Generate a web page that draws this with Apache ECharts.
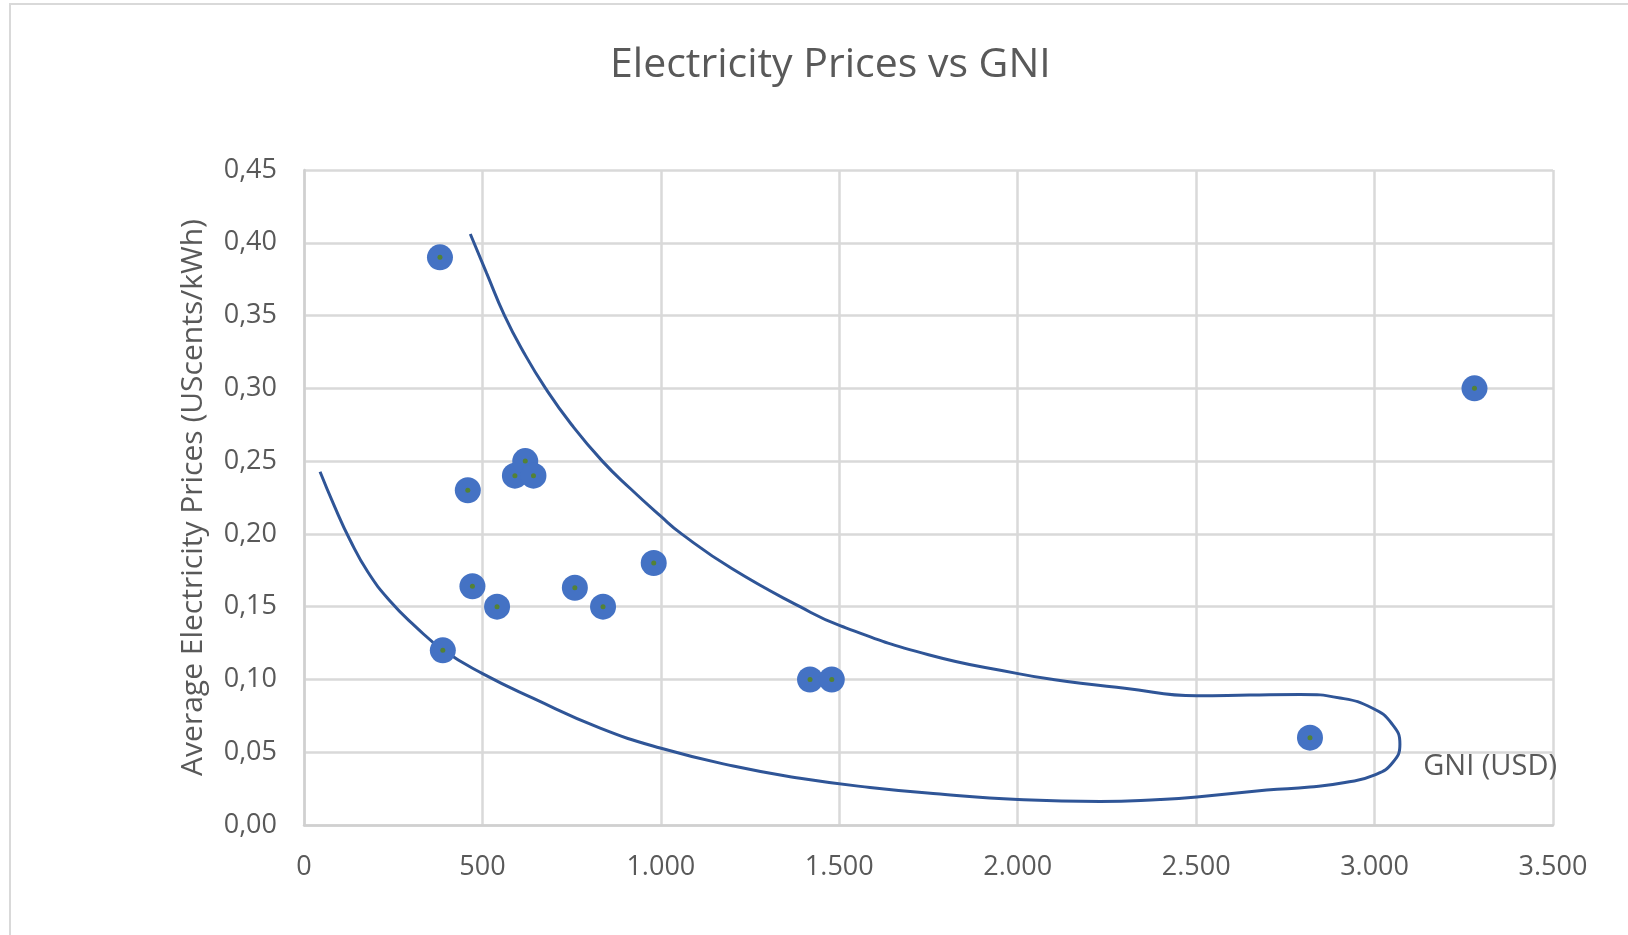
<!DOCTYPE html>
<html>
<head>
<meta charset="utf-8">
<script src="https://cdn.jsdelivr.net/npm/echarts@6/dist/echarts.min.js"></script>
<style>
  html, body { margin: 0; padding: 0; background: #fff; }
  #main { width: 1628px; height: 935px; }
  #frame { position: absolute; left: 9px; top: 3px; width: 1700px; height: 1000px;
           border: 2px solid #d9d9d9; pointer-events: none; }
</style>
</head>
<body>
<div id="main"></div>
<div id="frame"></div>
<script>
// GNI (USD) and average electricity price per country
var gni   = [381, 389, 459, 472, 541, 591, 620, 643, 759, 838, 980, 1418, 1479, 2819, 3280];
var price = [0.39, 0.12, 0.23, 0.164, 0.15, 0.24, 0.25, 0.24, 0.163, 0.15, 0.18, 0.10, 0.10, 0.06, 0.30];

// hand-drawn freeform curve around the points (in axis units)
var curveX = [466, 512, 562, 615, 677, 750, 836, 915, 998, 1058, 1200, 1390, 1502, 1750, 2001, 2099, 2300, 2502, 2650,
              2791, 2903, 2993, 3049, 3071, 3052, 3001, 2917, 2819, 2698, 2502, 2399, 2231, 2001,
              1782, 1586, 1390, 1203, 998, 830, 643, 499, 390, 311, 241, 179, 129, 84, 45];
var curveY = [0.406, 0.379, 0.350, 0.325, 0.300, 0.275, 0.250, 0.231, 0.2125, 0.200, 0.176, 0.150, 0.137, 0.117, 0.104, 0.100, 0.094, 0.0888, 0.0893,
              0.0897, 0.0873, 0.0804, 0.0694, 0.0556, 0.0433, 0.0344, 0.0292, 0.0261, 0.0240, 0.0192, 0.0175, 0.0161, 0.0175,
              0.0213, 0.0258, 0.0321, 0.0405, 0.0529, 0.0666, 0.0870, 0.1042, 0.1202, 0.1367, 0.1539, 0.1738, 0.1958, 0.2198, 0.2427];

var points = gni.map(function (g, i) { return [g, price[i]]; });
var curve = curveX.map(function (cx, i) { return [cx, curveY[i]]; });

var font = "'Open Sans', 'Noto Sans', sans-serif";
var textColor = '#595959';

var option = {
  animation: false,
  title: {
    text: 'Electricity Prices vs GNI',
    left: 605,
    top: 40,
    textStyle: { fontFamily: font, fontSize: 41, fontWeight: 'normal', color: textColor }
  },
  grid: { left: 304, right: 75, top: 170, bottom: 110 },
  xAxis: {
    type: 'value',
    min: 0, max: 3500, interval: 500,
    name: 'GNI (USD)',
    nameLocation: 'end',
    nameGap: 0,
    nameTextStyle: { fontFamily: font, fontSize: 29, color: textColor,
                     align: 'right', verticalAlign: 'bottom', padding: [0, -4, 44, 0] },
    axisLine: { show: true, lineStyle: { color: '#d0d0d0', width: 2.5 } },
    axisTick: { show: false },
    splitLine: { show: true, lineStyle: { color: '#d9d9d9', width: 2.5 } },
    axisLabel: {
      margin: 29, fontFamily: font, fontSize: 27, color: textColor,
      formatter: function (v) { return String(v).replace(/\B(?=(\d{3})+(?!\d))/g, '.'); }
    }
  },
  yAxis: {
    type: 'value',
    min: 0, max: 0.45, interval: 0.05,
    name: 'Average Electricity Prices (UScents/kWh)',
    nameLocation: 'middle',
    nameGap: 96,
    nameTextStyle: { fontFamily: font, fontSize: 30, color: textColor },
    axisLine: { show: true, lineStyle: { color: '#d0d0d0', width: 2.5 } },
    axisTick: { show: false },
    splitLine: { show: true, lineStyle: { color: '#d9d9d9', width: 2.5 } },
    axisLabel: {
      margin: 27, fontFamily: font, fontSize: 27, color: textColor,
      formatter: function (v) { return v.toFixed(2).replace('.', ','); }
    }
  },
  series: [
    {
      type: 'line',
      data: curve,
      smooth: 0.5,
      showSymbol: false,
      lineStyle: { color: '#2F5597', width: 3 },
      silent: true,
      z: 3
    },
    {
      type: 'scatter',
      data: points,
      symbol: 'circle',
      symbolSize: 26,
      itemStyle: { color: '#4472C4', opacity: 1 },
      z: 4
    },
    {
      type: 'scatter',
      data: points,
      symbol: 'circle',
      symbolSize: 5,
      itemStyle: { color: '#548235', opacity: 1 },
      silent: true,
      z: 5
    }
  ]
};

var myChart = echarts.init(document.getElementById('main'));
myChart.setOption(option);
</script>
</body>
</html>
